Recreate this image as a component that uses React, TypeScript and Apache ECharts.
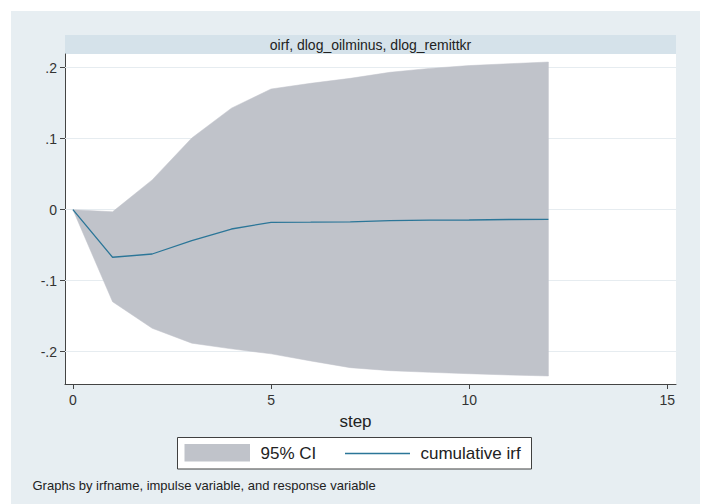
import React, { useEffect, useRef } from "react";
import * as echarts from "echarts";

const steps = [0, 1, 2, 3, 4, 5, 6, 7, 8, 9, 10, 11, 12];
const irf = [0, -0.067, -0.0624, -0.0437, -0.0272, -0.0178, -0.0176, -0.0172, -0.0155, -0.0147, -0.0145, -0.0138, -0.0136];
const upper = [0, -0.003, 0.042, 0.101, 0.143, 0.17, 0.178, 0.185, 0.1935, 0.199, 0.203, 0.2056, 0.208];
const lower = [0, -0.1296, -0.167, -0.188, -0.196, -0.203, -0.213, -0.2225, -0.2267, -0.229, -0.231, -0.2328, -0.2342];
const yTicks = [-0.2, -0.1, 0, 0.1, 0.2];
const xTicks = [0, 5, 10, 15];
const panelTitle = "oirf, dlog_oilminus, dlog_remittkr";
const legendLabels = ["95% CI", "cumulative irf"];
const xTitle = "step";
const note = "Graphs by irfname, impulse variable, and response variable";

const FONT = "'Liberation Sans', Arial, sans-serif";
const BAND = "#c0c3ca";
const LINE = "#2b7698";

function fmtY(v: number): string {
  if (Math.abs(v) < 1e-9) return "0";
  const s = (Math.round(v * 10) / 10).toString();
  return s.replace("0.", ".");
}

export default function App() {
  const ref = useRef<HTMLDivElement>(null);
  useEffect(() => {
    if (!ref.current) return;
    const chart = echarts.init(ref.current, null, { renderer: "svg" });
    chart.setOption({
      animation: false,
      grid: {
        left: 65,
        top: 54,
        right: 29,
        bottom: 120,
        show: true,
        backgroundColor: "#ffffff",
        borderWidth: 0,
      },
      xAxis: {
        type: "value",
        min: -0.2,
        max: 15.22,
        axisLine: { show: true, onZero: false, lineStyle: { color: "#444", width: 1 } },
        axisTick: { show: true, length: 5, customValues: xTicks, lineStyle: { color: "#444" } },
        axisLabel: {
          customValues: xTicks,
          margin: 9,
          fontSize: 14,
          fontFamily: FONT,
          color: "#333",
          formatter: (v: number) => String(v),
        },
        splitLine: { show: false },
      },
      yAxis: {
        type: "value",
        min: -0.2455,
        max: 0.2193,
        axisLine: { show: true, onZero: false, lineStyle: { color: "#444", width: 1 } },
        axisTick: { show: true, length: 5, customValues: yTicks, lineStyle: { color: "#444" } },
        axisLabel: {
          customValues: yTicks,
          margin: 8,
          fontSize: 14,
          fontFamily: FONT,
          color: "#333",
          formatter: (v: number) => fmtY(v),
        },
        splitLine: { show: false },
      },
      series: [
        {
          name: legendLabels[0],
          type: "custom",
          coordinateSystem: "cartesian2d",
          data: steps.map((s, i) => [s, lower[i], upper[i]]),
          encode: { x: 0, y: [1, 2] },
          silent: true,
          z: 2,
          renderItem: (params: any, api: any) => {
            if (params.dataIndex !== 0) return null;
            const pts: number[][] = [];
            for (let i = 0; i < steps.length; i++) pts.push(api.coord([steps[i], upper[i]]));
            for (let i = steps.length - 1; i >= 0; i--) pts.push(api.coord([steps[i], lower[i]]));
            return {
              type: "polygon",
              shape: { points: pts },
              style: { fill: BAND, stroke: BAND, lineWidth: 0.5 },
            };
          },
          markLine: {
            silent: true,
            symbol: "none",
            label: { show: false },
            lineStyle: { color: "#e6ecf0", type: "solid", width: 1 },
            data: yTicks.map((v) => ({ yAxis: v })),
            z: 1,
          },
        },
        {
          name: legendLabels[1],
          type: "line",
          data: steps.map((s, i) => [s, irf[i]]),
          symbol: "none",
          lineStyle: { width: 1.3, color: LINE },
          silent: true,
          z: 3,
        },
      ],
      graphic: [
        {
          type: "rect",
          shape: { x: 65, y: 35, width: 611, height: 19 },
          style: { fill: "#d5e2ea" },
          silent: true,
        },
        {
          type: "text",
          x: 370.5,
          y: 44.5,
          style: {
            text: panelTitle,
            fill: "#222",
            font: `14px ${FONT}`,
            textAlign: "center",
            textVerticalAlign: "middle",
          },
        },
        {
          type: "text",
          x: 355.5,
          y: 421,
          style: {
            text: xTitle,
            fill: "#222",
            font: `17px ${FONT}`,
            textAlign: "center",
            textVerticalAlign: "middle",
          },
        },
        {
          type: "rect",
          shape: { x: 177.5, y: 437.5, width: 354, height: 31.5 },
          style: { fill: "#ffffff", stroke: "#404040", lineWidth: 1 },
        },
        {
          type: "rect",
          shape: { x: 184.5, y: 444, width: 65.5, height: 17.5 },
          style: { fill: BAND },
        },
        {
          type: "text",
          x: 260.5,
          y: 453.5,
          style: {
            text: legendLabels[0],
            fill: "#222",
            font: `17px ${FONT}`,
            textAlign: "left",
            textVerticalAlign: "middle",
          },
        },
        {
          type: "line",
          shape: { x1: 345, y1: 453.5, x2: 410, y2: 453.5 },
          style: { stroke: LINE, lineWidth: 1.3 },
        },
        {
          type: "text",
          x: 420.5,
          y: 453.5,
          style: {
            text: legendLabels[1],
            fill: "#222",
            font: `17px ${FONT}`,
            textAlign: "left",
            textVerticalAlign: "middle",
          },
        },
        {
          type: "text",
          x: 32.5,
          y: 485,
          style: {
            text: note,
            fill: "#222",
            font: `13px ${FONT}`,
            textAlign: "left",
            textVerticalAlign: "middle",
          },
        },
      ],
    });
    return () => chart.dispose();
  }, []);

  return (
    <div style={{ position: "absolute", left: 0, top: 0, width: 705, height: 504, background: "#ffffff", overflow: "hidden" }}>
      <div style={{ position: "absolute", left: 11, top: 11, width: 689, height: 493, background: "#e7eef2" }} />
      <div ref={ref} style={{ position: "absolute", left: 0, top: 0, width: 705, height: 504 }} />
    </div>
  );
}
